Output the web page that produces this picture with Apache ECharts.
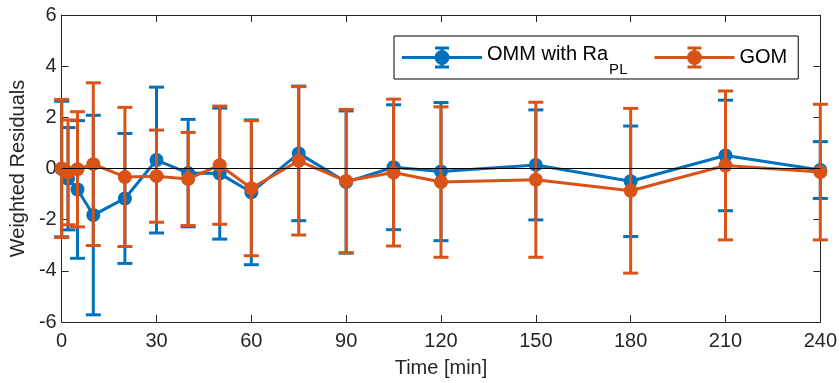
<!DOCTYPE html>
<html>
<head>
<meta charset="utf-8">
<title>Weighted Residuals</title>
<script src="https://cdn.jsdelivr.net/npm/echarts@6/dist/echarts.min.js"></script>
<style>
  html, body { margin: 0; padding: 0; background: #ffffff; }
  #chart { width: 840px; height: 383px; }
</style>
</head>
<body>
<div id="chart"></div>
<script>
// Sampling times [min]
const times = [0, 2, 5, 10, 20, 30, 40, 50, 60, 75, 90, 105, 120, 150, 180, 210, 240];

// OMM with Ra_PL: weighted residuals and error half-widths
const ommResiduals = [-0.02, -0.40, -0.82, -1.82, -1.17, 0.33, -0.18, -0.20, -0.93, 0.59, -0.53, 0.05, -0.12, 0.14, -0.50, 0.51, -0.06];
const ommErrors    = [2.65, 2.00, 2.69, 3.90, 2.54, 2.85, 2.10, 2.56, 2.83, 2.63, 2.78, 2.44, 2.70, 2.15, 2.16, 2.16, 1.11];

// GOM: weighted residuals and error half-widths
const gomResiduals = [0.00, -0.15, -0.03, 0.17, -0.33, -0.30, -0.41, 0.13, -0.77, 0.30, -0.49, -0.16, -0.53, -0.44, -0.87, 0.12, -0.14];
const gomErrors    = [2.70, 2.05, 2.25, 3.18, 2.72, 1.80, 1.82, 2.31, 2.64, 2.90, 2.80, 2.87, 2.94, 3.03, 3.22, 2.91, 2.65];

// Axis ranges
const xTicks = { min: 0, max: 240, interval: 30 };
const yTicks = { min: -6, max: 6, interval: 2 };

const BLUE = '#0072BD';
const ORANGE = '#D95319';
const AXIS = '#262626';
const FONT = '"Liberation Sans", Arial, Helvetica, sans-serif';

const pairs = (xs, ys) => xs.map((x, i) => [x, ys[i]]);
const bars = (xs, ys, es) => xs.map((x, i) => [x, ys[i] - es[i], ys[i] + es[i]]);

function errorBarRenderer(color) {
  return function (params, api) {
    const x = api.value(0);
    const top = api.coord([x, api.value(2)]);
    const bot = api.coord([x, api.value(1)]);
    const hw = 7.5;
    const style = { stroke: color, lineWidth: 3, fill: null, lineCap: 'butt' };
    return {
      type: 'group',
      children: [
        { type: 'line', shape: { x1: top[0], y1: top[1], x2: bot[0], y2: bot[1] }, style },
        { type: 'line', shape: { x1: top[0] - hw, y1: top[1], x2: top[0] + hw, y2: top[1] }, style },
        { type: 'line', shape: { x1: bot[0] - hw, y1: bot[1], x2: bot[0] + hw, y2: bot[1] }, style }
      ]
    };
  };
}

// Legend glyph: line + marker + capped error bar (80 x 22)
const legendIcon = 'path://' +
  'M0 9.5h80v3h-80Z' +
  'M38.5 0h3v22h-3Z' +
  'M33 0h14v3h-14Z' +
  'M33 19h14v3h-14Z' +
  'M32.5 11a7.5 7.5 0 1 1 15 0a7.5 7.5 0 1 1 -15 0Z';

const chart = echarts.init(document.getElementById('chart'), null, { renderer: 'canvas' });

const axisLineStyle = { color: AXIS, width: 1 };

const option = {
  animation: false,
  backgroundColor: '#ffffff',
  textStyle: { fontFamily: FONT },
  grid: { left: 60, right: 19, top: 15, bottom: 61, containLabel: false },
  legend: {
    left: 394,
    top: 36,
    orient: 'horizontal',
    padding: [2, 11, 2, 8],
    itemGap: 18,
    itemWidth: 80,
    itemHeight: 22,
    borderColor: '#000000',
    borderWidth: 1,
    backgroundColor: '#ffffff',
    selectedMode: false,
    data: [
      { name: 'OMM with Ra_PL', icon: legendIcon },
      { name: 'GOM', icon: legendIcon }
    ],
    formatter: function (name) {
      if (name === 'GOM') return '{g|GOM}';
      return '{a|OMM with Ra}{s|PL}';
    },
    textStyle: {
      color: '#000000',
      fontFamily: FONT,
      fontSize: 20,
      rich: {
        a: { fontSize: 20, fontFamily: FONT, color: '#000', lineHeight: 22, padding: [0, 0, 6, 0] },
        s: { fontSize: 15, fontFamily: FONT, color: '#000', lineHeight: 15, padding: [24, 9, 0, 1] },
        g: { fontSize: 20, fontFamily: FONT, color: '#000', lineHeight: 22 }
      }
    }
  },
  xAxis: [
    {
      type: 'value',
      min: xTicks.min, max: xTicks.max, interval: xTicks.interval,
      position: 'bottom',
      name: 'Time [min]',
      nameLocation: 'middle',
      nameGap: 36,
      nameTextStyle: { color: AXIS, fontSize: 20, fontFamily: FONT },
      axisLine: { show: true, onZero: false, lineStyle: axisLineStyle },
      axisTick: { show: true, inside: true, length: 7, lineStyle: axisLineStyle },
      axisLabel: { color: AXIS, fontSize: 20, fontFamily: FONT, margin: 9 },
      splitLine: { show: false }
    },
    {
      type: 'value',
      min: xTicks.min, max: xTicks.max, interval: xTicks.interval,
      position: 'top',
      axisLine: { show: true, onZero: false, lineStyle: axisLineStyle },
      axisTick: { show: true, inside: true, length: 7, lineStyle: axisLineStyle },
      axisLabel: { show: false },
      splitLine: { show: false }
    }
  ],
  yAxis: [
    {
      type: 'value',
      min: yTicks.min, max: yTicks.max, interval: yTicks.interval,
      position: 'left',
      name: 'Weighted Residuals',
      nameLocation: 'middle',
      nameGap: 28,
      nameRotate: 90,
      nameTextStyle: { color: AXIS, fontSize: 20, fontFamily: FONT },
      axisLine: { show: true, onZero: false, lineStyle: axisLineStyle },
      axisTick: { show: true, inside: true, length: 7, lineStyle: axisLineStyle },
      axisLabel: { color: AXIS, fontSize: 20, fontFamily: FONT, margin: 5 },
      splitLine: { show: false }
    },
    {
      type: 'value',
      min: yTicks.min, max: yTicks.max, interval: yTicks.interval,
      position: 'right',
      axisLine: { show: true, onZero: false, lineStyle: axisLineStyle },
      axisTick: { show: true, inside: true, length: 7, lineStyle: axisLineStyle },
      axisLabel: { show: false },
      splitLine: { show: false }
    }
  ],
  series: [
    {
      name: 'OMM with Ra_PL',
      type: 'custom',
      xAxisIndex: 0, yAxisIndex: 0,
      renderItem: errorBarRenderer(BLUE),
      itemStyle: { color: BLUE },
      encode: { x: 0, y: [1, 2] },
      data: bars(times, ommResiduals, ommErrors),
      z: 2,
      silent: true
    },
    {
      name: 'OMM with Ra_PL',
      type: 'line',
      xAxisIndex: 0, yAxisIndex: 0,
      data: pairs(times, ommResiduals),
      symbol: 'circle',
      symbolSize: 14,
      clip: false,
      lineStyle: { color: BLUE, width: 3 },
      itemStyle: { color: BLUE },
      z: 3,
      silent: true
    },
    {
      name: 'GOM',
      type: 'custom',
      xAxisIndex: 0, yAxisIndex: 0,
      renderItem: errorBarRenderer(ORANGE),
      itemStyle: { color: ORANGE },
      encode: { x: 0, y: [1, 2] },
      data: bars(times, gomResiduals, gomErrors),
      z: 4,
      silent: true
    },
    {
      name: 'GOM',
      type: 'line',
      xAxisIndex: 0, yAxisIndex: 0,
      data: pairs(times, gomResiduals),
      symbol: 'circle',
      symbolSize: 14,
      clip: false,
      lineStyle: { color: ORANGE, width: 3 },
      itemStyle: { color: ORANGE },
      z: 5,
      silent: true,
      markLine: {
        silent: true,
        symbol: 'none',
        label: { show: false },
        lineStyle: { color: '#000000', width: 1.2, type: 'solid' },
        data: [{ yAxis: 0 }],
        z: 10
      }
    }
  ]
};

chart.setOption(option);
</script>
</body>
</html>
